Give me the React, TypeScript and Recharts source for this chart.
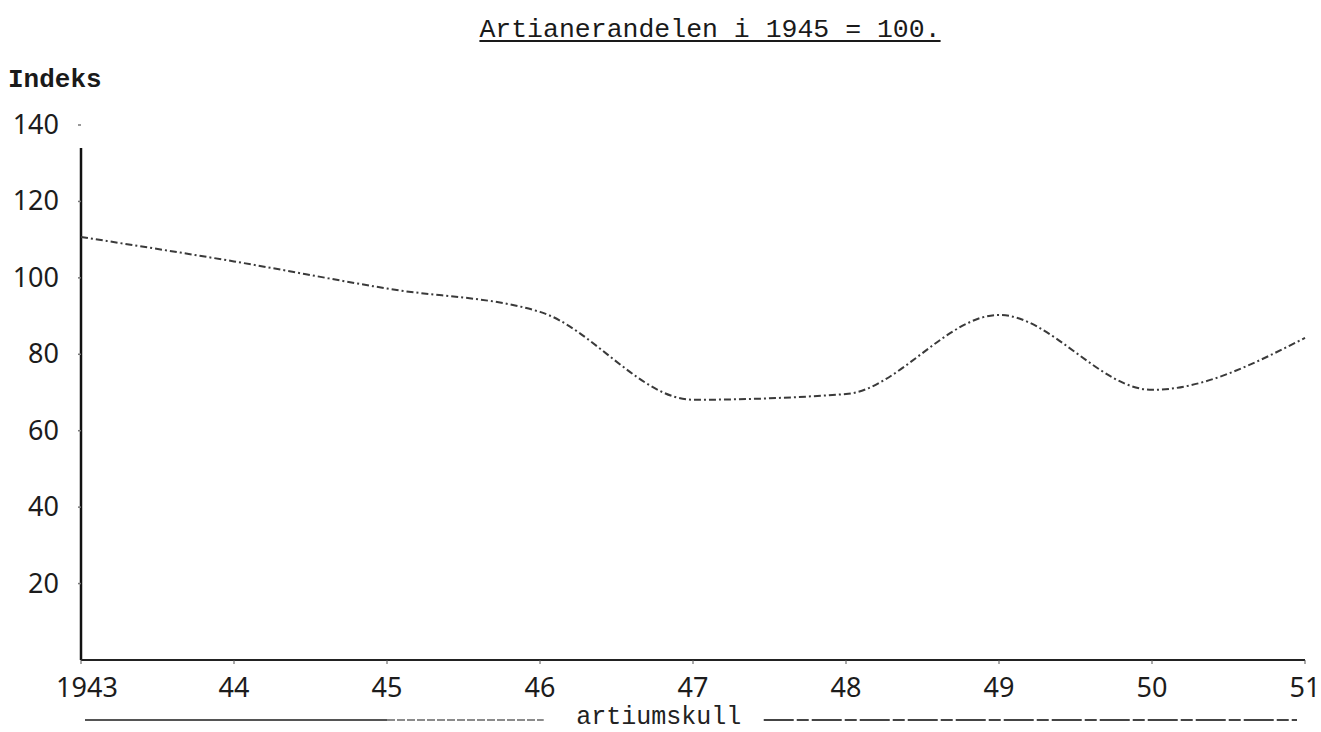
import React from 'react';
import { LineChart, Line, XAxis, YAxis, ReferenceLine } from 'recharts';

const years = [1943, 1944, 1945, 1946, 1947, 1948, 1949, 1950, 1951];
const xTickLabels = ['1943', '44', '45', '46', '47', '48', '49', '50', '51'];
const indexValues = [110.7, 104.3, 97.2, 91.1, 68.1, 69.6, 90.3, 70.7, 84.3];
const yTicks = [20, 40, 60, 80, 100, 120, 140];

const TITLE = 'Artianerandelen i 1945 = 100.';
const Y_LABEL = 'Indeks';
const X_LABEL = 'artiumskull';

const data = years.map((year, i) => ({ year, indeks: indexValues[i] }));

const W = 1321;
const H = 732;

const XTick = (props: any) => {
  const { x, y, payload, index } = props;
  const i = years.indexOf(payload.value);
  const label = xTickLabels[i];
  return (
    <text
      x={index === 0 ? x + 6 : x}
      y={y + 31}
      textAnchor="middle"
      fontFamily="'Noto Sans', sans-serif"
      fontSize={27}
      fill="#1c1c1c"
    >
      {label}
    </text>
  );
};

const YTick = (props: any) => {
  const { x, y, payload } = props;
  return (
    <text
      x={x}
      y={y + 9}
      textAnchor="end"
      fontFamily="'Noto Sans', sans-serif"
      fontSize={27}
      fill="#1c1c1c"
    >
      {payload.value}
    </text>
  );
};

const XAxisLabel = (props: any) => {
  const { viewBox } = props;
  const { x, y, width } = viewBox;
  const ly = y + 60;
  const cx = x + width * 0.472;
  return (
    <g>
      <line x1={x + 4} y1={ly} x2={x + 306} y2={ly} stroke="#555" strokeWidth={2} />
      <line x1={x + 306} y1={ly} x2={cx - 115} y2={ly} stroke="#666" strokeWidth={1.5} strokeDasharray="8 2" />
      <text
        x={cx}
        y={ly + 4}
        textAnchor="middle"
        fontFamily="'Liberation Mono', monospace"
        fontSize={25}
        fill="#222"
      >
        {X_LABEL}
      </text>
      <line x1={cx + 105} y1={ly} x2={x + width - 8} y2={ly} stroke="#444" strokeWidth={1.8} strokeDasharray="30 3 12 3" />
    </g>
  );
};

export default function App() {
  return (
    <div style={{ position: 'absolute', left: 0, top: 0, width: W, height: H, background: '#fff' }}>
      <div
        style={{
          position: 'absolute',
          left: 0,
          width: W,
          top: 15,
          textAlign: 'center',
          paddingLeft: 99,
          boxSizing: 'border-box',
          fontFamily: "'Liberation Mono', monospace",
          fontSize: 26.5,
          lineHeight: '30px',
          color: '#1a1a1a',
          textDecoration: 'underline',
          textDecorationThickness: '2px',
          textUnderlineOffset: '3px',
          whiteSpace: 'pre',
        }}
      >
        {TITLE}
      </div>
      <div
        style={{
          position: 'absolute',
          left: 8,
          top: 65,
          fontFamily: "'Liberation Mono', monospace",
          fontWeight: 'bold',
          fontSize: 26,
          lineHeight: '30px',
          color: '#1a1a1a',
        }}
      >
        {Y_LABEL}
      </div>
      <LineChart width={W} height={H} data={data} margin={{ top: 125, right: 16, bottom: 32, left: 11 }}>
        <XAxis
          dataKey="year"
          type="number"
          domain={[1943, 1951]}
          ticks={years}
          height={40}
          tickSize={4}
          tickMargin={2}
          tick={<XTick />}
          axisLine={{ stroke: '#222', strokeWidth: 2.2 }}
          tickLine={{ stroke: '#555', strokeWidth: 1 }}
          label={<XAxisLabel />}
        />
        <YAxis
          type="number"
          domain={[0, 140]}
          ticks={yTicks}
          width={70}
          axisLine={false}
          tickLine={{ stroke: '#777', strokeWidth: 1.5 }}
          tickSize={3}
          tickMargin={19}
          tick={<YTick />}
        />
        <ReferenceLine
          segment={[{ x: 1943, y: 0 }, { x: 1943, y: 134 }]}
          stroke="#111"
          strokeWidth={2.5}
        />
        <Line
          type="monotone"
          dataKey="indeks"
          stroke="#3a3a3a"
          strokeWidth={2}
          strokeDasharray="7 3 2 3"
          dot={false}
          activeDot={false}
          isAnimationActive={false}
        />
      </LineChart>
    </div>
  );
}
